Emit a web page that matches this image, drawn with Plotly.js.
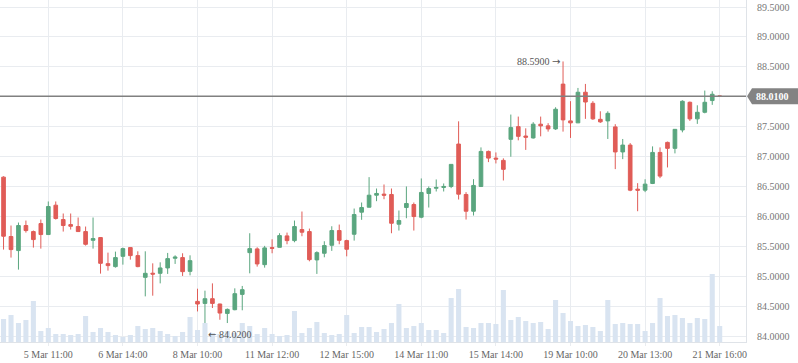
<!DOCTYPE html>
<html>
<head>
<meta charset="utf-8">
<script src="https://cdn.plot.ly/plotly-3.0.1.min.js"></script>
<style>html,body{margin:0;padding:0;background:#fff;}#chart{width:798px;height:363px;}</style>
</head>
<body>
<div id="chart"></div>
<script>
// Hourly candles, indexed 0..96
const tickLabels = ["5 Mar 11:00","6 Mar 14:00","8 Mar 10:00","11 Mar 12:00","12 Mar 15:00","14 Mar 11:00","15 Mar 14:00","19 Mar 10:00","20 Mar 13:00","21 Mar 16:00"];
const tickCandles = [6,16,26,36,46,56,66,76,86,96];

const open = [86.656,85.663,85.428,85.847,85.746,85.880,85.696,86.187,85.947,85.863,
85.830,85.746,85.600,85.646,85.210,85.160,85.332,85.478,85.344,84.981,
85.050,85.048,85.138,85.300,85.311,85.081,84.579,84.545,84.624,84.535,
84.378,84.440,84.696,85.394,85.456,85.193,85.478,85.483,85.674,85.595,
85.780,85.746,85.272,85.383,85.517,85.763,85.595,85.701,86.070,86.153,
86.354,86.372,86.366,85.869,86.148,86.198,85.986,86.383,86.470,86.483,
86.500,87.209,86.366,86.086,86.500,87.086,86.974,86.936,87.288,87.500,
87.343,87.311,87.541,87.513,87.462,88.211,87.596,87.563,88.075,87.890,
87.622,87.596,87.496,87.077,87.192,86.455,86.438,86.550,87.069,87.237,
87.137,87.444,87.907,87.630,87.740,87.936,88.010];
const high = [86.670,85.847,85.897,85.930,85.763,85.947,86.249,86.249,86.048,86.048,
85.981,85.830,85.981,85.650,85.394,85.411,85.478,85.480,85.416,85.416,
85.215,85.232,85.389,85.349,85.383,85.349,84.791,84.758,84.880,84.540,
84.461,84.797,84.837,85.718,85.483,85.507,85.617,85.718,85.729,85.930,
86.081,85.796,85.416,85.584,85.835,85.863,85.610,86.131,86.232,86.656,
86.466,86.533,86.466,86.098,86.500,86.232,86.634,86.500,86.617,86.550,
86.870,87.589,86.405,86.622,87.153,87.100,87.069,86.970,87.702,87.668,
87.472,87.575,87.668,87.558,87.824,88.590,87.926,88.147,88.214,87.926,
87.757,87.757,87.541,87.294,87.225,86.555,86.620,87.170,87.153,87.250,
87.460,87.941,87.920,87.857,88.103,88.091,88.010];
const low = [85.445,85.311,85.110,85.729,85.478,85.461,85.690,85.947,85.746,85.780,
85.740,85.512,85.461,85.043,85.093,85.143,85.193,85.277,85.150,84.663,
84.674,84.880,85.038,85.205,85.004,85.014,84.411,84.020,84.468,84.272,
84.217,84.430,84.430,85.048,85.160,85.143,85.383,85.480,85.534,85.567,
85.668,85.249,85.038,85.316,85.423,85.534,85.332,85.595,85.942,86.150,
86.254,86.287,85.718,85.763,85.969,85.763,85.969,86.148,86.416,86.416,
86.472,86.282,85.947,86.014,86.490,86.907,86.885,86.600,86.997,87.271,
87.111,87.300,87.338,87.417,87.445,87.417,87.311,87.560,87.630,87.613,
87.563,87.294,86.790,86.957,86.421,86.086,86.405,86.540,86.639,86.818,
87.053,87.405,87.596,87.546,87.723,87.864,88.010];
const close = [85.668,85.445,85.847,85.763,85.612,85.696,86.165,85.964,85.847,85.835,
85.746,85.533,85.629,85.215,85.177,85.311,85.461,85.344,85.160,85.048,
85.035,85.138,85.294,85.320,85.076,85.260,84.535,84.624,84.545,84.384,
84.445,84.708,84.775,85.461,85.205,85.473,85.466,85.679,85.595,85.830,
85.735,85.277,85.394,85.512,85.763,85.600,85.450,86.031,86.148,86.354,
86.383,86.354,85.885,85.930,86.215,85.997,86.400,86.466,86.483,86.500,
86.869,86.371,86.086,86.517,87.086,86.974,86.958,86.786,87.484,87.338,
87.323,87.541,87.513,87.462,87.791,87.613,87.563,88.075,87.912,87.630,
87.580,87.723,87.077,87.192,86.438,86.438,86.539,87.069,86.673,87.137,
87.455,87.924,87.630,87.740,87.907,88.041,88.010];
const volume = [23,27,19,22,41,11,14,8,8,7,
8,26,10,14,10,7,5,7,16,13,
14,11,8,6,10,25,12,19,9,8,
11,9,19,16,8,14,8,6,7,31,
9,14,20,9,7,8,27,9,15,15,
10,13,19,38,14,16,19,12,12,9,
44,53,15,14,19,19,18,52,22,25,
21,19,20,13,42,29,21,16,17,15,
11,42,18,19,18,18,11,19,44,26,
27,24,19,24,23,68,16];

const lastPrice = 88.01;
const highMark = {idx: 75, value: 88.59};
const lowMark = {idx: 27, value: 84.02};

const xs = open.map((_, i) => i);
const FONT = "Liberation Serif, Times New Roman, serif";
const GRID = "#e9ecf0";
const ARROW = '<span style="font-family:DejaVu Sans">';

const traces = [
  {
    type: "bar", x: xs, y: volume, yaxis: "y2",
    marker: {color: "#d9e4f1", line: {width: 0}},
    width: 0.68, hoverinfo: "skip"
  },
  {
    type: "candlestick", x: xs, open: open, high: high, low: low, close: close,
    increasing: {line: {color: "#5aa67f", width: 1}, fillcolor: "#5aa67f"},
    decreasing: {line: {color: "#e05c57", width: 1}, fillcolor: "#e05c57"},
    whiskerwidth: 0, hoverinfo: "skip"
  }
];

const layout = {
  width: 798, height: 363,
  margin: {l: 0, r: 52, t: 0, b: 21, pad: 0},
  paper_bgcolor: "#ffffff", plot_bgcolor: "#ffffff",
  showlegend: false, hovermode: false,
  font: {family: FONT, size: 10, color: "#666"},
  xaxis: {
    range: [-0.475, 99.525], tickmode: "array", tickvals: tickCandles, ticktext: tickLabels,
    showgrid: true, gridcolor: GRID, gridwidth: 1, zeroline: false,
    ticks: "outside", ticklen: 3, tickcolor: GRID,
    showline: true, linecolor: "#dfe3e8", linewidth: 1,
    rangeslider: {visible: false},
    tickfont: {family: FONT, size: 10, color: "#666"}, fixedrange: true
  },
  yaxis: {
    side: "right", range: [83.90, 89.617], tick0: 84, dtick: 0.5, tickformat: ".4f",
    showgrid: true, gridcolor: GRID, gridwidth: 1, zeroline: false,
    ticks: "outside", ticklen: 8, tickcolor: "rgba(0,0,0,0)",
    showline: true, linecolor: "#dfe3e8", linewidth: 1,
    tickfont: {family: FONT, size: 10, color: "#777"}, fixedrange: true
  },
  yaxis2: {overlaying: "y", range: [0, 342], visible: false, showgrid: false, zeroline: false, fixedrange: true},
  shapes: [
    {type: "line", xref: "paper", x0: 0, x1: 1, yref: "y", y0: lastPrice, y1: lastPrice,
     line: {color: "#808080", width: 1.5}, layer: "above"},
    {type: "path", xref: "paper", xsizemode: "pixel", xanchor: 1, yref: "y", ysizemode: "pixel", yanchor: lastPrice,
     path: "M1,0 L6,8 L52,8 L52,-8 L6,-8 Z", fillcolor: "#838383", line: {width: 0}, layer: "above"}
  ],
  annotations: [
    {xref: "paper", x: 1, xanchor: "left", xshift: 8, yref: "y", y: lastPrice, yanchor: "middle",
     text: "<b>" + lastPrice.toFixed(4) + "</b>", showarrow: false, font: {family: FONT, size: 10, color: "#ffffff"}},
    {xref: "x", x: highMark.idx, xanchor: "right", xshift: -1, yref: "y", y: highMark.value, yanchor: "middle",
     text: highMark.value.toFixed(4) + " " + ARROW + "\u2192</span>", showarrow: false, font: {family: FONT, size: 10, color: "#555"}},
    {xref: "x", x: lowMark.idx, xanchor: "left", xshift: 1, yref: "y", y: lowMark.value, yanchor: "middle",
     text: ARROW + "\u2190</span> " + lowMark.value.toFixed(4), showarrow: false, font: {family: FONT, size: 10, color: "#555"}}
  ]
};

Plotly.newPlot("chart", traces, layout, {staticPlot: true, displayModeBar: false});
</script>
</body>
</html>
